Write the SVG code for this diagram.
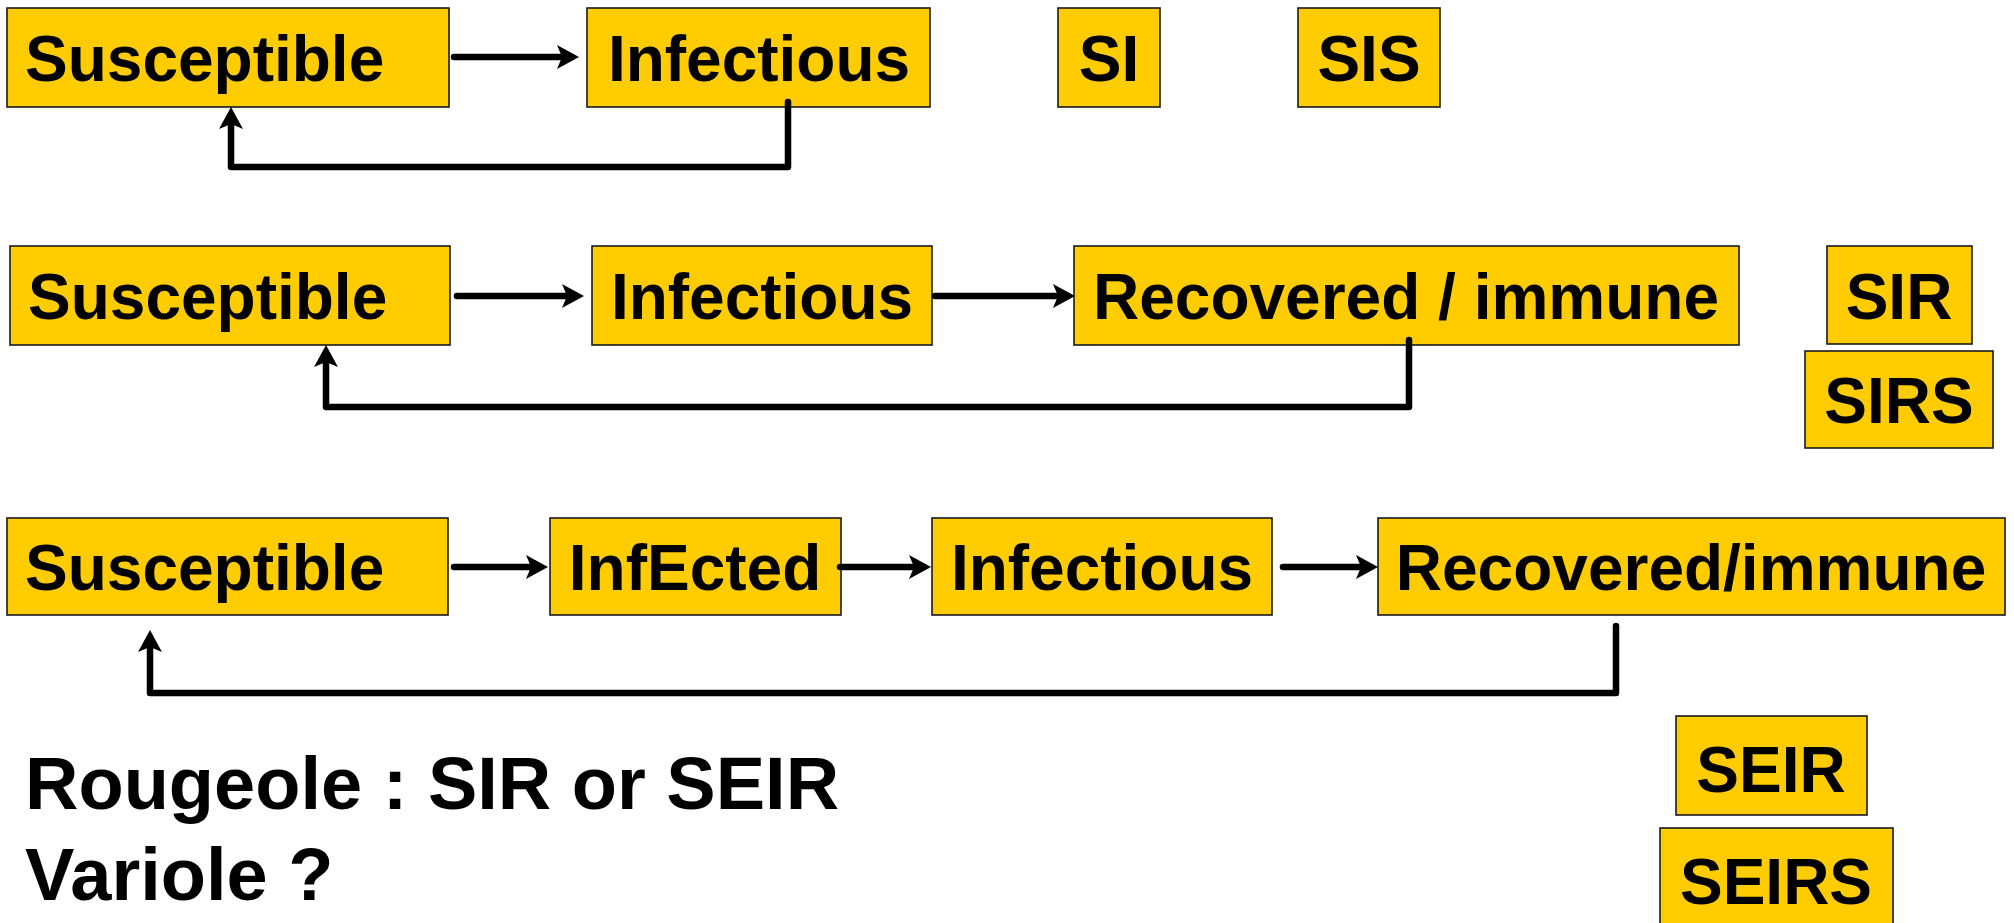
<svg xmlns="http://www.w3.org/2000/svg" width="2014" height="923" viewBox="0 0 2014 923">
<style>
.box{fill:#FFCC00;stroke:#1a1a1a;stroke-width:1.6}
.t{font-family:"Liberation Sans",Arial,sans-serif;font-weight:bold;font-size:64px;fill:#000}
.m{text-anchor:middle}
.c{fill:none;stroke:#000;stroke-width:6.5;stroke-linecap:round;stroke-linejoin:round}
.big{font-family:"Liberation Sans",Arial,sans-serif;font-weight:bold;font-size:74px;fill:#000}
</style>
<defs>
<marker id="ah" markerUnits="userSpaceOnUse" markerWidth="30" markerHeight="30" viewBox="-8 -15 30 30" refX="0" refY="0" orient="auto">
<path d="M17,0 L-5,-12 L0,0 L-5,12 Z" fill="#000"/>
</marker>
</defs>
<rect width="2014" height="923" fill="#fff"/>

<g id="row1-susceptible"><rect class="box" x="7" y="8" width="442" height="99"/><text class="t" x="25" y="81">Susceptible</text></g>
<g id="row1-infectious"><rect class="box" x="587" y="8" width="343" height="99"/><text class="t m" x="759" y="81">Infectious</text></g>
<g id="label-si"><rect class="box" x="1058" y="8" width="102" height="99"/><text class="t m" x="1109" y="81">SI</text></g>
<g id="label-sis"><rect class="box" x="1298" y="8" width="142" height="99"/><text class="t m" x="1369" y="81">SIS</text></g>

<g id="row2-susceptible"><rect class="box" x="10" y="246" width="440" height="99"/><text class="t" x="28" y="319">Susceptible</text></g>
<g id="row2-infectious"><rect class="box" x="592" y="246" width="340" height="99"/><text class="t m" x="762" y="319">Infectious</text></g>
<g id="row2-recovered"><rect class="box" x="1074" y="246" width="665" height="99"/><text class="t m" x="1406" y="319">Recovered / immune</text></g>
<g id="label-sir"><rect class="box" x="1827" y="246" width="145" height="98"/><text class="t m" x="1899" y="319">SIR</text></g>
<g id="label-sirs"><rect class="box" x="1805" y="351" width="188" height="97"/><text class="t m" x="1899" y="423">SIRS</text></g>

<g id="row3-susceptible"><rect class="box" x="7" y="518" width="441" height="97"/><text class="t" x="25" y="590">Susceptible</text></g>
<g id="row3-infected"><rect class="box" x="550" y="518" width="291" height="97"/><text class="t m" x="695" y="590">InfEcted</text></g>
<g id="row3-infectious"><rect class="box" x="932" y="518" width="340" height="97"/><text class="t m" x="1102" y="590">Infectious</text></g>
<g id="row3-recovered"><rect class="box" x="1378" y="518" width="627" height="97"/><text class="t m" x="1691" y="590">Recovered/immune</text></g>
<g id="label-seir"><rect class="box" x="1676" y="716" width="191" height="99"/><text class="t m" x="1771" y="792">SEIR</text></g>
<g id="label-seirs"><rect class="box" x="1660" y="828" width="233" height="102"/><text class="t m" x="1776" y="904">SEIRS</text></g>

<g id="connectors">
<path class="c" d="M454,57 H562" marker-end="url(#ah)"/>
<path class="c" d="M788,102 V167 H231 V124" marker-end="url(#ah)"/>

<path class="c" d="M457,296 H567" marker-end="url(#ah)"/>
<path class="c" d="M935,296 H1058" marker-end="url(#ah)"/>
<path class="c" d="M1409,340 V407 H326 V362" marker-end="url(#ah)"/>

<path class="c" d="M454,567 H531" marker-end="url(#ah)"/>
<path class="c" d="M840,567 H914" marker-end="url(#ah)"/>
<path class="c" d="M1283,567 H1361" marker-end="url(#ah)"/>
<path class="c" d="M1616,626 V693 H150 V647" marker-end="url(#ah)"/>
</g>

<g id="notes">
<text class="big" x="25" y="809">Rougeole : SIR or SEIR</text>
<text class="big" x="25" y="900">Variole ?</text>
</g>
</svg>
